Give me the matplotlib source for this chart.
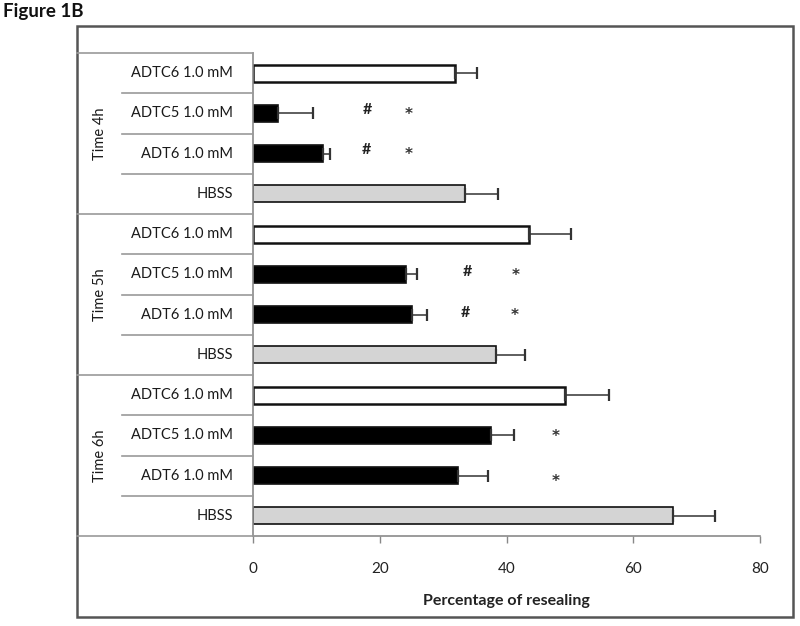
import matplotlib
matplotlib.use("Agg")
import matplotlib.pyplot as plt
from matplotlib.lines import Line2D
from matplotlib.patches import Rectangle
import numpy as np

plt.rcParams['font.family'] = ['Lato', 'DejaVu Sans']

# ---------------- data ----------------
groups = ["Time 4h", "Time 5h", "Time 6h"]
treatments = ["ADTC6 1.0 mM", "ADTC5 1.0 mM", "ADT6 1.0 mM", "HBSS"]
values_4h = [31.9, 3.9, 11.1, 33.4]
errors_4h = [3.5, 5.5, 1.0, 5.3]
values_5h = [43.5, 24.1, 25.1, 38.3]
errors_5h = [6.6, 1.8, 2.4, 4.6]
values_6h = [49.2, 37.5, 32.4, 66.3]
errors_6h = [6.9, 3.7, 4.7, 6.6]
# significance marks: (group index, treatment index, symbol, x position in %)
marks = [
    (0, 1, "#", 18.0), (0, 1, "*", 24.5),
    (0, 2, "#", 17.9), (0, 2, "*", 24.6),
    (1, 1, "#", 33.9), (1, 1, "*", 41.4),
    (1, 2, "#", 33.5), (1, 2, "*", 41.3),
    (2, 1, "*", 47.7),
    (2, 2, "*", 47.7),
]
xticks = [0, 20, 40, 60, 80]
xlabel = "Percentage of resealing"
title = "Figure 1B"

face_colors = ["white", "black", "black", "#d4d4d4"]

W, H = 800, 626
fig = plt.figure(figsize=(W / 100, H / 100), dpi=100)

def fx(px):
    return px / W

def fy(py):
    return 1 - py / H

ax_l, ax_r, ax_t, ax_b = 253, 760, 53, 536
ax = fig.add_axes([fx(ax_l), fy(ax_b), fx(ax_r) - fx(ax_l), fy(ax_t) - fy(ax_b)])

all_vals = [values_4h, values_5h, values_6h]
all_errs = [errors_4h, errors_5h, errors_6h]
n_t = len(treatments)
for g in range(len(groups)):
    ys = np.arange(n_t) + g * n_t
    for i in range(n_t):
        ax.barh(ys[i], all_vals[g][i], height=0.42, color=face_colors[i],
                edgecolor="#111111", linewidth=1.8 if i == 0 else 1.2, zorder=2)
        ax.errorbar(all_vals[g][i], ys[i], xerr=[[0], [all_errs[g][i]]],
                    fmt="none", ecolor="#333333", elinewidth=1.1,
                    capsize=4, capthick=1.6, zorder=3)

for g, t, sym, xpos in marks:
    y = g * n_t + t
    if sym == "#":
        dy = -0.05 if g == 1 else -0.08
        ax.text(xpos, y + dy, sym, ha="center", va="center",
                fontsize=11.5, fontweight="bold", color="#222222", zorder=4)
    else:
        dy = 0.02
        if g == 2 and t == 2:
            dy = 0.15
        ax.text(xpos, y + dy, sym, ha="center", va="center",
                fontsize=11, fontweight="bold", color="#333333",
                family="DejaVu Sans", zorder=4)

ax.set_xlim(0, 80)
ax.set_ylim(n_t * len(groups) - 0.5, -0.5)
ax.set_xticks(xticks)
ax.set_xticklabels([str(v) for v in xticks], fontsize=11, color="#222222")
ax.set_yticks([])
ax.tick_params(axis="x", direction="out", length=5, width=1, color="#888888", pad=14)
for s in ["top", "right"]:
    ax.spines[s].set_visible(False)
for s in ["left", "bottom"]:
    ax.spines[s].set_color("#8a8a8a")
    ax.spines[s].set_linewidth(1.2)
ax.set_xlabel(xlabel, fontsize=11.5, fontweight="bold", color="#222222", labelpad=13)

# ---------------- label table on the left ----------------
line_c = "#9a9a9a"
left_x, cat_x = 77, 122
slot = (ax_b - ax_t) / (n_t * len(groups))
fig.add_artist(Line2D([fx(left_x), fx(ax_l)], [fy(ax_t), fy(ax_t)], color=line_c, lw=1.2))
fig.add_artist(Line2D([fx(left_x), fx(ax_l)], [fy(ax_b), fy(ax_b)], color=line_c, lw=1.2))
for g in range(len(groups)):
    g_top = ax_t + g * n_t * slot
    if g > 0:
        fig.add_artist(Line2D([fx(left_x), fx(ax_l)], [fy(g_top), fy(g_top)], color=line_c, lw=1.2))
    for i in range(1, n_t):
        yy = g_top + i * slot
        fig.add_artist(Line2D([fx(cat_x), fx(ax_l)], [fy(yy), fy(yy)], color=line_c, lw=1.2))
    for i in range(n_t):
        yc = g_top + (i + 0.5) * slot
        fig.text(fx(233), fy(yc), treatments[i], ha="right", va="center",
                 fontsize=10.5, color="#1a1a1a")
    fig.text(fx(100), fy(g_top + n_t * slot / 2), groups[g], rotation=90,
             ha="center", va="center", fontsize=10.5, color="#1a1a1a")

# outer frame
fig.add_artist(Rectangle((fx(77), fy(617)), fx(793) - fx(77), fy(26) - fy(617),
                         fill=False, edgecolor="#555555", lw=1.8))

fig.text(fx(3), fy(12), title, ha="left", va="center", fontsize=13.5, fontweight="bold", color="#111111")

fig.savefig("out.png", dpi=100)
